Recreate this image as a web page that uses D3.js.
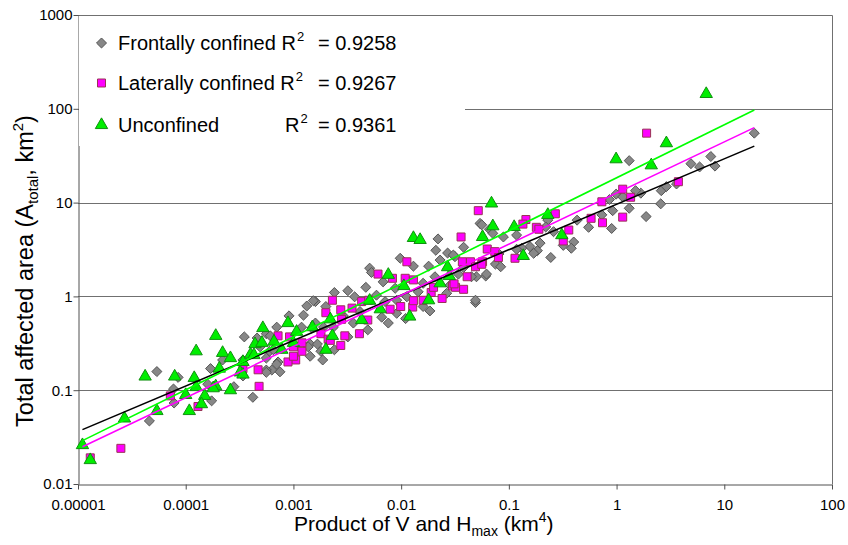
<!DOCTYPE html>
<html>
<head>
<meta charset="utf-8">
<script src="https://cdn.jsdelivr.net/npm/d3@7"></script>
<style>
  body { margin: 0; background: #fff; }
  svg { display: block; font-family: "Liberation Sans", Arial, sans-serif; }
</style>
</head>
<body>
<div id="chart"></div>
<script>
// values: [product V*Hmax (km^4), total affected area (km^2)]
var frontal = [
  [5.4e-5,0.158],[4.6e-5,0.047],[7.7e-5,0.103],[7.8e-5,0.073],[8.5e-5,0.137],[1.7e-4,0.17],
  [1.74e-4,0.077],[1.6e-4,0.116],[2.2e-4,0.21],[3.5e-4,0.37],[4.2e-4,0.084],[2.8e-4,0.109],
  [3.4e-4,0.142],[4.6e-4,0.36],[5.6e-4,0.40],[4.9e-4,0.29],[6.0e-4,0.26],[7.2e-4,0.20],
  [6.3e-4,0.164],[7.5e-4,0.157],[5.6e-4,0.164],[7.0e-4,0.47],[9.1e-4,0.62],[1.19e-3,0.47],
  [1.33e-3,0.79],[1.6e-3,0.88],[1.43e-3,0.31],[1.67e-3,0.31],[1.87e-3,0.21],[1.48e-3,0.46],
  [3.4e-4,0.21],[5.6e-4,0.22],[6.1e-4,0.38],[6.5e-4,0.27],[1.53e-3,0.90],[5.6e-4,0.155],
  [7.0e-4,0.19],
  [2.2e-2,4.1],[2.1e-2,3.1],[2.7e-2,2.9],[9.8e-3,2.55],[1.3e-2,2.1],[5.1e-3,2.0],[5.3e-3,1.8],
  [6.8e-3,1.43],[4.7e-3,1.25],[3.2e-3,1.15],[2.4e-3,1.1],[1.24e-3,0.63],[8.8e-3,1.22],
  [1.6e-2,1.38],[2.06e-2,1.62],[2.3e-2,2.44],[3.16e-2,2.65],[1.8e-2,2.1],[5.0e-2,1.62],
  [6.1e-2,1.65],[4.9e-2,0.86],[1.85e-2,0.70],[1.6e-2,0.78],[1.1e-2,0.58],[9.1e-3,0.66],
  [7.6e-3,0.52],[6.6e-3,0.60],[4.9e-3,0.44],[3.6e-3,0.52],[2.9e-3,0.62],[2.35e-3,0.47],
  [1.9e-3,0.47],[1.6e-3,0.52],[3.2e-3,0.37],[2.4e-3,0.27],[1.8e-3,0.26],[1.37e-3,0.29],
  [1.43e-3,0.23],[5.4e-2,6.0],[6.6e-2,5.2],[3.8e-2,2.04],[2.65e-2,1.08],[2.85e-2,1.32],
  [1.44e-2,1.12],[1.13e-2,0.99],[9.1e-3,0.91],[7.1e-3,0.88],[5.9e-3,1.03],[4.15e-3,0.69],
  [3.7e-3,0.99],[2.0e-3,0.78],[5.6e-2,5.8],[3.05e-2,2.76],[6.2e-2,1.73],[4.9e-2,0.91],
  [4.5e-2,1.62],
  [1.31,28],[4.9,26],[5.9,24],[2.6,13.4],[2.9,14.8],[1.68,12.6],[1.5,13.4],[0.99,12.3],
  [0.86,10.8],[1.14,11.5],[2.57,9.7],[1.31,8.7],[1.88,7.1],[0.92,8.2],[0.73,7.4],[0.55,5.45],
  [0.90,5.3],[0.43,6.5],[0.40,3.8],[0.38,3.26],[0.32,3.5],[0.26,4.9],[0.23,6.5],[0.22,5.5],
  [0.195,3.7],[0.184,3.07],[0.157,3.4],[0.17,2.88],[0.132,3.26],[0.118,3.18],[0.081,2.83],
  [0.075,2.21],[0.084,2.07],[0.245,2.6],[0.071,4.7],[0.089,4.3],[0.118,4.5],[0.038,3.34],
  [0.034,1.73],[19,55],[7.5,31],[8.2,24.5],[3.6,15.8]
];
var lateral = [
  [1.3e-5,0.019],[2.5e-5,0.024],[7.2e-5,0.087],[1.3e-4,0.067],[3.4e-4,0.17],[4.8e-4,0.11],
  [4.7e-4,0.165],[7.2e-4,0.38],[9.2e-4,0.37],[1.0e-3,0.29],[1.2e-3,0.32],[1.2e-3,0.26],
  [1.05e-3,0.21],[8.9e-4,0.20],[1.8e-3,0.40],[2.0e-3,0.67],[2.1e-3,0.35],[2.75e-3,0.30],
  [3.0e-3,0.38],[4.1e-3,0.40],[4.9e-3,0.56],[2.8e-3,0.57],[2.3e-3,0.91],[2.75e-3,0.72],
  [3.5e-3,0.75],[4.3e-3,0.88],[5.0e-3,0.91],[7.9e-3,0.73],[9.9e-3,0.78],[1.28e-2,0.77],
  [1.3e-2,0.90],[1.6e-2,0.91],[2.4e-2,0.95],[1.9e-2,1.1],[2.0e-2,1.25],[3.0e-2,1.29],
  [3.2e-2,1.25],[3.8e-2,1.19],[4.1e-2,1.62],[1.3e-2,1.5],[1.09e-2,1.56],[8.3e-3,1.56],
  [6.1e-3,1.73],[1.13e-2,2.34],[3.6e-2,4.3],[5.2e-2,8.2],[3.7e-2,2.34],[4.4e-2,2.34],
  [6.3e-2,3.2],[7.4e-2,3.0],[5.7e-2,2.34],[8.0e-2,2.6],[0.114,2.55],[4.9e-2,2.07],[5.6e-2,2.2],
  [2.2e-3,0.34],[1.0e-3,0.23],[3.1e-2,1.36],
  [0.27,7.6],[0.144,6.6],[0.135,5.9],[0.18,5.45],[0.19,5.2],[0.36,5.1],[0.32,3.9],[0.58,6.8],
  [0.74,6.1],[0.73,10.2],[1.14,13.9],[1.35,11.4],[1.14,7.0],[3.75,16.7],[1.9,55]
];
var unconfined = [
  [1.1e-5,0.026],[1.3e-5,0.018],[2.7e-5,0.050],[4.2e-5,0.14],[7.9e-5,0.14],[5.4e-5,0.060],
  [1.2e-4,0.135],[1.25e-4,0.26],[1.25e-4,0.108],[1.0e-4,0.089],[1.5e-4,0.087],[1.4e-4,0.071],
  [1.08e-4,0.060],[1.9e-4,0.38],[2.2e-4,0.25],[2.6e-4,0.22],[1.9e-4,0.11],[2.6e-4,0.10],
  [2.05e-4,0.17],[3.4e-4,0.20],[3.2e-4,0.155],[4.0e-4,0.24],[4.4e-4,0.31],[5.2e-4,0.46],
  [6.6e-4,0.33],[8.9e-4,0.52],[1.07e-3,0.42],[1.5e-3,0.47],[2.0e-3,0.27],[5.1e-4,0.32],
  [7.8e-4,0.27],[1.0e-3,0.32],[2.3e-3,0.38],[2.2e-3,0.57],[4.3e-3,0.56],[6.4e-3,0.73],
  [5.1e-3,0.90],[1.2e-2,0.61],[1.8e-2,0.91],[2.3e-2,1.38],[2.8e-2,1.65],[2.7e-2,2.05],
  [1.06e-2,1.29],[7.6e-3,1.7],[1.3e-2,4.2],[1.5e-2,4.0],[5.7e-2,4.3],[6.9e-2,9.8],[7.1e-2,5.6],
  [0.112,5.5],[0.23,7.4],[0.31,4.5],[0.136,2.7],[0.99,29],[2.9,43],[2.1,25],[6.8,144],
  [3.4e-4,0.147],[4.3e-4,0.237],[1.8e-4,0.105]
];

// fitted power-law lines, end points
var fitX = [1.1e-5, 19];
var frontalFit = [0.038, 40];
var lateralFit = [0.025, 63];
var unconfinedFit = [0.029, 97];

var xTicks = [1e-5, 1e-4, 1e-3, 1e-2, 1e-1, 1, 10, 100];
var xTickLabels = ['0.00001', '0.0001', '0.001', '0.01', '0.1', '1', '10', '100'];
var yTicks = [0.01, 0.1, 1, 10, 100, 1000];
var yTickLabels = ['0.01', '0.1', '1', '10', '100', '1000'];
var gridValues = [0.1, 1, 10, 100];

var legendNames = ['Frontally confined R', 'Laterally confined R', 'Unconfined'];
var legendR2 = ['= 0.9258', '= 0.9267', '= 0.9361'];

var width = 848;
var height = 545;
var plotLeft = 78, plotRight = 832, plotTop = 15, plotBottom = 484;

var svg = d3.select('#chart')
  .append('svg')
  .attr('width', width)
  .attr('height', height);

var x = d3.scaleLog().domain([1e-5, 100]).range([plotLeft, plotRight]);
var y = d3.scaleLog().domain([0.01, 1000]).range([plotBottom, plotTop]);

var frameColor = '#707070';

// grid lines
svg.append('g')
  .selectAll('line')
  .data(gridValues)
  .enter()
  .append('line')
  .attr('x1', plotLeft)
  .attr('x2', plotRight)
  .attr('y1', function(d) { return Math.round(y(d)) + 0.5; })
  .attr('y2', function(d) { return Math.round(y(d)) + 0.5; })
  .style('stroke', frameColor)
  .style('stroke-width', 1);

// frame top and right
svg.append('path')
  .attr('d', 'M' + plotLeft + ',' + (plotTop + 0.5) + 'H' + (plotRight + 0.5) + 'V' + plotBottom)
  .style('fill', 'none')
  .style('stroke', frameColor);

// minor ticks: every log tick that is not a power of ten
function minorOf(scale) {
  return scale.ticks().filter(function(d) {
    var m = d / Math.pow(10, Math.floor(Math.log10(d) + 1e-9));
    return Math.abs(m - 1) > 1e-6;
  });
}

var gx = svg.append('g').attr('transform', 'translate(0,' + (plotBottom + 0.5) + ')');
gx.call(d3.axisBottom(x).tickValues(minorOf(x)).tickFormat('').tickSize(3).tickSizeOuter(0));
gx.call(d3.axisBottom(x).tickValues(xTicks)
  .tickFormat(function(d, i) { return xTickLabels[i]; })
  .tickSize(5).tickSizeOuter(0).tickPadding(10));

var gy = svg.append('g').attr('transform', 'translate(' + (plotLeft + 0.5) + ',0)');
gy.call(d3.axisLeft(y).tickValues(minorOf(y)).tickFormat('').tickSize(3).tickSizeOuter(0));
gy.call(d3.axisLeft(y).tickValues(yTicks)
  .tickFormat(function(d, i) { return yTickLabels[i]; })
  .tickSize(5).tickSizeOuter(0).tickPadding(1));

svg.selectAll('.domain, .tick line').style('stroke', '#505050');
svg.selectAll('.tick text')
  .style('font-family', '"Liberation Sans", Arial, sans-serif')
  .style('font-size', '15px')
  .style('fill', '#000');

// legend box hides the gridline behind it
svg.append('rect')
  .attr('x', plotLeft + 1)
  .attr('y', plotTop + 1)
  .attr('width', 386)
  .attr('height', 130)
  .style('fill', '#fff');

var diamond = d3.symbol().type(d3.symbolDiamond2).size(64);
var square = d3.symbol().type(d3.symbolSquare).size(64);
var triangle = d3.symbol().type(d3.symbolTriangle).size(66);

var series = [
  { data: frontal, shape: diamond, fill: '#878787', stroke: '#555555' },
  { data: lateral, shape: square, fill: '#ff00ff', stroke: '#993355' },
  { data: unconfined, shape: triangle, fill: '#00ee00', stroke: '#109010' }
];

series.forEach(function(s) {
  svg.append('g')
    .selectAll('path')
    .data(s.data)
    .enter()
    .append('path')
    .attr('d', s.shape)
    .attr('transform', function(d) { return 'translate(' + x(d[0]) + ',' + y(d[1]) + ')'; })
    .style('fill', s.fill)
    .style('stroke', s.stroke)
    .style('stroke-width', 1);
});

// fit lines
var fits = [
  { v: frontalFit, color: '#000000' },
  { v: lateralFit, color: '#ff00ff' },
  { v: unconfinedFit, color: '#00ff00' }
];
fits.forEach(function(f) {
  svg.append('line')
    .attr('x1', x(fitX[0]))
    .attr('y1', y(f.v[0]))
    .attr('x2', x(fitX[1]))
    .attr('y2', y(f.v[1]))
    .style('stroke', f.color)
    .style('stroke-width', 1.6);
});

// legend
var legendY = [43, 83, 125];
var legend = svg.append('g').style('font-size', '20px');
series.forEach(function(s, i) {
  legend.append('path')
    .attr('d', s.shape)
    .attr('transform', 'translate(101.5,' + legendY[i] + ')')
    .style('fill', s.fill)
    .style('stroke', s.stroke);
  var t = legend.append('text')
    .attr('x', 118)
    .attr('y', legendY[i] + 7);
  t.append('tspan').text(legendNames[i]);
  if (i === 2) t.append('tspan').attr('x', 285).text('R');
  t.append('tspan').attr('dx', 1).attr('dy', -9).style('font-size', '13px').text('2');
  t.append('tspan').attr('x', 318).attr('dy', 9).text(legendR2[i]);
});

// axis titles
var xt = svg.append('text')
  .attr('x', 294)
  .attr('y', 531)
  .style('font-size', '21px');
xt.append('tspan').text('Product of V and H');
xt.append('tspan').attr('dy', 5).style('font-size', '14px').text('max');
xt.append('tspan').attr('dy', -5).text(' (km');
xt.append('tspan').attr('dy', -9).style('font-size', '14px').text('4');
xt.append('tspan').attr('dy', 9).text(')');

var yt = svg.append('text')
  .attr('transform', 'translate(33,271) rotate(-90)')
  .attr('text-anchor', 'middle')
  .style('font-size', '23.5px');
yt.append('tspan').text('Total affected area (A');
yt.append('tspan').attr('dy', 5).style('font-size', '15px').text('total');
yt.append('tspan').attr('dy', -5).text(', km');
yt.append('tspan').attr('dy', -10).style('font-size', '15px').text('2');
yt.append('tspan').attr('dy', 10).text(')');
</script>
</body>
</html>
